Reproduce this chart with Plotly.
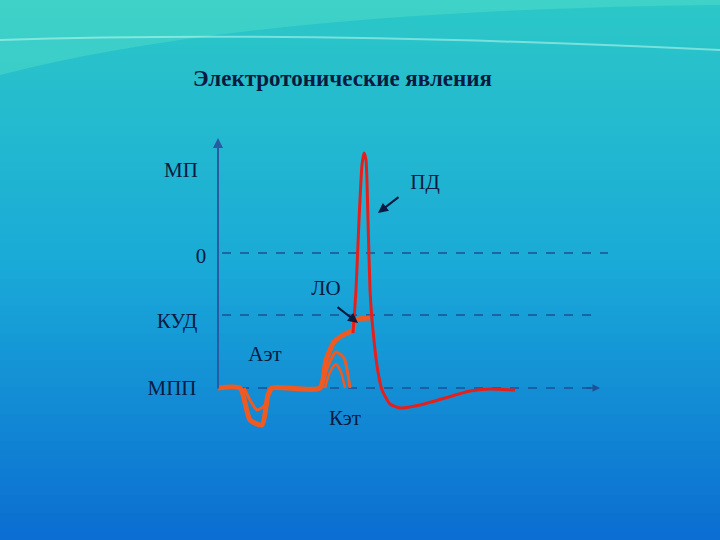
import plotly.graph_objects as go

# curves in slide coordinates (x to the right, y downward)
spike_x = [353, 356, 359, 362, 364, 366, 368, 370, 372, 375, 378, 382, 390, 400, 420, 445, 470, 490, 515]
spike_y = [333, 290, 220, 165, 153, 160, 220, 290, 320, 350, 372, 390, 404, 408, 405, 398, 391, 389, 390]

base_x = [218, 240, 250, 262, 268, 272, 320, 326, 334, 343, 353, 355, 370]
base_y = [388, 388, 420, 425, 395, 388, 388, 360, 342, 335, 330, 320, 318]

hyp_x = [244, 250, 257, 265, 270]
hyp_y = [388, 400, 410, 405, 388]

sub1_x = [322, 328, 336, 344, 350]
sub1_y = [388, 366, 352, 358, 388]
sub2_x = [325, 330, 336, 341, 345]
sub2_y = [388, 372, 364, 372, 388]

labels = ["МП", "ПД", "0", "ЛО", "КУД", "Аэт", "МПП", "Кэт"]
label_x = [181, 425, 201, 326, 177, 265, 172, 345]
label_y = [172, 184, 258, 290, 323, 356, 390, 420]

dash_levels = [253, 315]
dash_ends = [608, 600]

fig = go.Figure()

# background gradient
top = (44, 200, 200)
mid = (26, 170, 216)
bot = (12, 110, 210)
n = 60
for i in range(n):
    t = i / (n - 1)
    if t < 0.5:
        a, b, s = top, mid, t / 0.5
    else:
        a, b, s = mid, bot, (t - 0.5) / 0.5
    c = tuple(int(a[k] + (b[k] - a[k]) * s) for k in range(3))
    fig.add_shape(type="rect", x0=0, x1=720, y0=540 * i / n, y1=540 * (i + 1) / n + 1,
                  fillcolor="rgb(%d,%d,%d)" % c, line_width=0, layer="below")
# light wave bands at the top
fig.add_shape(type="path", path="M0,75 Q250,10 720,5 L720,0 L0,0 Z",
              fillcolor="rgba(80,220,200,0.5)", line_width=0, layer="below")
fig.add_shape(type="path", path="M0,40 Q300,30 720,50", line=dict(color="rgba(200,255,240,0.5)", width=2), layer="below")

# dashed levels
for lv, xe in zip(dash_levels, dash_ends):
    fig.add_trace(go.Scatter(x=[222, xe], y=[lv, lv], mode="lines",
                             line=dict(color="#1f4f94", width=1.5, dash="dash"), hoverinfo="skip"))
fig.add_trace(go.Scatter(x=[222, 592], y=[388, 388], mode="lines",
                         line=dict(color="#1f4f94", width=1.5, dash="dash"), hoverinfo="skip"))
fig.add_annotation(x=600, y=388, ax=585, ay=388, xref="x", yref="y", axref="x", ayref="y",
                   text="", showarrow=True, arrowhead=2, arrowwidth=1.5, arrowcolor="#1f4f94")
# vertical axis
fig.add_annotation(x=218, y=138, ax=218, ay=390, xref="x", yref="y", axref="x", ayref="y",
                   text="", showarrow=True, arrowhead=2, arrowwidth=2, arrowcolor="#2a5aa0")

orange = "#f05a20"
for xs, ys, w in [(base_x, base_y, 5), (hyp_x, hyp_y, 3), (sub1_x, sub1_y, 3), (sub2_x, sub2_y, 2.5)]:
    fig.add_trace(go.Scatter(x=xs, y=ys, mode="lines", line=dict(color=orange, width=w, shape="spline", smoothing=0.6),
                             hoverinfo="skip"))
fig.add_trace(go.Scatter(x=spike_x, y=spike_y, mode="lines",
                         line=dict(color="#e5201c", width=3, shape="spline", smoothing=0.5), hoverinfo="skip"))

fig.add_trace(go.Scatter(x=label_x, y=label_y, mode="text", text=labels,
                         textfont=dict(family="Liberation Serif", size=21, color="#0a1a40"), hoverinfo="skip"))

# pointer arrows
fig.add_annotation(x=378, y=213, ax=400, ay=196, xref="x", yref="y", axref="x", ayref="y",
                   text="", showarrow=True, arrowhead=2, arrowwidth=2, arrowcolor="#0a1a40")
fig.add_annotation(x=358, y=323, ax=336, ay=306, xref="x", yref="y", axref="x", ayref="y",
                   text="", showarrow=True, arrowhead=2, arrowwidth=2, arrowcolor="#0a1a40")

fig.add_annotation(x=342, y=78, xref="x", yref="y", text="<b>Электротонические явления</b>", showarrow=False,
                   font=dict(family="Liberation Serif", size=23, color="#0a1a40"))

fig.update_layout(width=720, height=540, margin=dict(l=0, r=0, t=0, b=0), showlegend=False,
                  plot_bgcolor="#1aa8d8", paper_bgcolor="#1aa8d8",
                  xaxis=dict(range=[0, 720], visible=False, fixedrange=True),
                  yaxis=dict(range=[540, 0], visible=False, fixedrange=True))
fig.write_html("out.html", config={"displayModeBar": False},
               post_script="document.body.style.margin='0';")
